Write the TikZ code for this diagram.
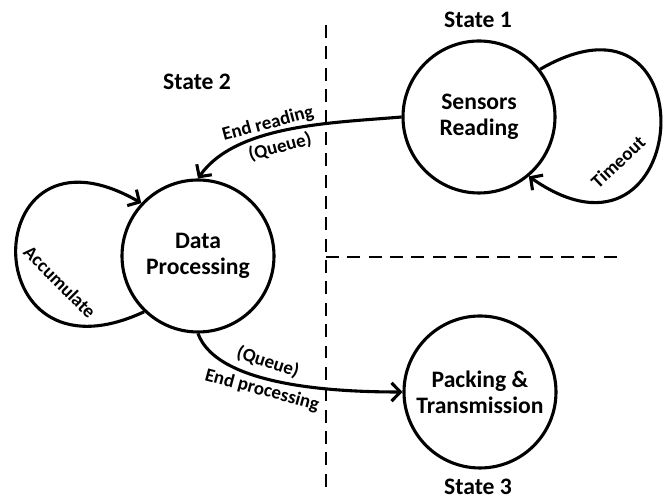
\documentclass[tikz,border=0pt]{standalone}
\usepackage{fontspec}
\setmainfont{Carlito}
\usetikzlibrary{arrows.meta}
\tikzset{
  state/.style={circle,draw,line width=2.2pt,minimum size=3.8cm,inner sep=0pt,align=center,font=\fontsize{16.8}{18.5}\selectfont\bfseries},
  stname/.style={font=\fontsize{16.8}{18.5}\selectfont\bfseries},
  elabel/.style={inner sep=0pt,font=\fontsize{13.5}{17}\selectfont\bfseries},
  trans/.style={line width=2.2pt,-{Straight Barb[length=2.2mm,width=4.6mm]}},
  border/.style={line width=1.4pt,dash pattern=on 9.2pt off 6pt}
}

\begin{document}
\begin{tikzpicture}
        \useasboundingbox (0,0) rectangle (16.7,12.45);

        \node[state] (SR) at (11.975,9.525) {Sensors\\Reading};
        \node[state] (DP) at (4.95,6.05) {Data\\Processing};
        \node[state] (PT) at (12.0,2.65) {Packing \&\\Transmission};
        \node[stname] (S1) at (11.95,11.95) {State 1};
        \node[stname] (S2) at (4.925,10.4) {State 2};
        \node[stname] (S3) at (11.95,0.27) {State 3};

        \coordinate (VT) at (8.15,11.825);
        \coordinate (VB) at (8.15,0.275);
        \coordinate (HL) at (8.15,6.025);
        \coordinate (HR) at (15.625,6.025);

        \draw[border] (VT) -- (VB);
        \draw[border] (HL) -- (HR);

        \draw[trans] (SR.38) to[out=30,in=-35,looseness=4.73] (SR.-50);
        \draw[trans] (DP.226) to[out=205,in=150,looseness=4.48] (DP.137);
        \draw[trans] (SR.west) to[out=185,in=55,looseness=0.8] (DP.north);
        \draw[trans] (DP.south) to[out=-70,in=180,looseness=0.7] (PT.west);

        \node[elabel,rotate=15] (ER) at (6.7,9.35) {End reading};
        \node[elabel,rotate=15] (Q1) at (7.0,8.775) {(Queue)};
        \node[elabel,rotate=-18] (Q2) at (6.7,3.4) {(Queue)};
        \node[elabel,rotate=-15] (EP) at (6.55,2.69) {End processing};
        \node[elabel,rotate=-45] (AC) at (1.5,5.4) {Accumulate};
        \node[elabel,rotate=43] (TO) at (15.45,8.4) {Timeout};
\end{tikzpicture}
\end{document}
